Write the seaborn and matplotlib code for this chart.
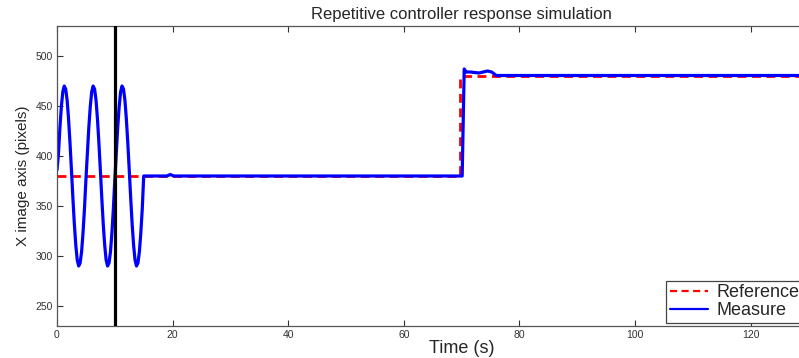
import numpy as np
import pandas as pd
import matplotlib
matplotlib.use("Agg")
import matplotlib.pyplot as plt
import seaborn as sns

# ---- data ----
# sinusoidal disturbance phase of the measurement (0 .. 14.75 s, every 0.25 s)
sine_step = 0.25
sine_vals = [386, 402, 428, 449, 464, 470, 467, 456, 437, 413,
             386, 358, 332, 311, 296, 290, 293, 304, 323, 347,
             376, 402, 428, 449, 464, 470, 467, 456, 437, 413,
             386, 358, 332, 311, 296, 290, 293, 304, 323, 347,
             376, 402, 428, 449, 464, 470, 467, 456, 437, 413,
             386, 358, 332, 311, 296, 290, 293, 304, 323, 347]
# remainder of the measurement
tail_t = [15.0, 19.0, 19.6, 20.2, 70.1, 70.45, 70.8, 71.5, 73.0, 74.5, 75.2, 76.0, 140.0]
tail_y = [380, 380, 381.5, 380, 380, 487, 484, 484, 483, 485, 484, 480.5, 480.5]
# reference signal
ref_t = [0, 69.8, 69.8, 140]
ref_y = [380, 380, 480, 480]
# marker line
marker_t = 10

title = "Repetitive controller response simulation"
xlabel = "Time (s)"
ylabel = "X image axis (pixels)"
xticks = [0, 20, 40, 60, 80, 100, 120]
yticks = [250, 300, 350, 400, 450, 500]

sine_t = list(np.arange(len(sine_vals)) * sine_step)
meas_t = sine_t + tail_t
meas_y = sine_vals + tail_y
meas = pd.DataFrame({"t": meas_t, "y": meas_y})
ref = pd.DataFrame({"t": ref_t, "y": ref_y})

sns.set_style("ticks")
plt.rcParams["font.family"] = ["Liberation Sans", "DejaVu Sans"]

W, H = 799, 358
fig = plt.figure(figsize=(W / 100, H / 100), dpi=100)
xmin, xmax = 0, 140
px_per_unit = 5.78
ax = fig.add_axes([57 / W, (H - 326) / H, (xmax - xmin) * px_per_unit / W, 300 / H])

sns.lineplot(data=ref, x="t", y="y", ax=ax, color="#ff0000", lw=2.0,
             linestyle=(0, (3.2, 2.0)), sort=False, estimator=None, label="Reference")
sns.lineplot(data=meas, x="t", y="y", ax=ax, color="#0000ff", lw=2.3,
             sort=False, estimator=None, label="Measure")
ax.axvline(marker_t, color="black", lw=2.3, zorder=5)

ax.set_xlim(xmin, xmax)
ax.set_ylim(230, 530)
ax.set_xticks(xticks)
ax.set_yticks(yticks)
ax.tick_params(direction="in", length=4, width=0.8, labelsize=7.5, colors="#333333",
               top=True, right=True, pad=3)
for s in ax.spines.values():
    s.set_color("#555555")
    s.set_linewidth(0.9)

ax.set_title(title, fontsize=12, pad=5)
ax.set_xlabel(xlabel, fontsize=13, labelpad=0)
ax.set_ylabel(ylabel, fontsize=11, labelpad=4)

leg = ax.legend(loc="lower left", bbox_to_anchor=(666 / W, (H - 323) / H),
                bbox_transform=fig.transFigure, fontsize=13, frameon=True,
                fancybox=False, framealpha=1, edgecolor="#444444",
                handlelength=2.1, handletextpad=0.5, labelspacing=0.05,
                borderpad=0.2, borderaxespad=0)
leg.get_frame().set_linewidth(0.9)
for h in leg.get_lines():
    h.set_linewidth(1.6)

fig.savefig("out.png", dpi=100)
